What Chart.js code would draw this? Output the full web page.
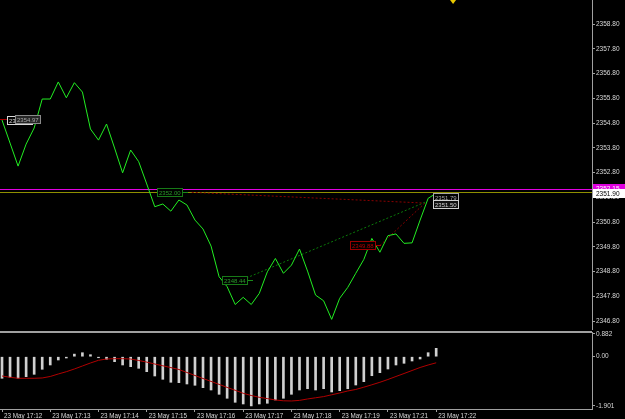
<!DOCTYPE html>
<html>
<head>
<meta charset="utf-8">
<script src="https://cdn.jsdelivr.net/npm/chart.js@4.4.1/dist/chart.umd.min.js"></script>
<style>
  html, body { margin: 0; padding: 0; background: #000; }
  #wrap { position: relative; width: 625px; height: 419px; overflow: hidden; background: #000; }
  #mainChart { position: absolute; left: 0; top: 0; }
  #oscChart { position: absolute; left: 0; top: 330px; }
</style>
</head>
<body>
<div id="wrap">
  <canvas id="mainChart" width="625" height="330"></canvas>
  <canvas id="oscChart" width="625" height="89"></canvas>
</div>
<script>
// bar times on the bottom axis (one label every 6 bars)
const timeLabels = ['23 May 17:12', '23 May 17:13', '23 May 17:14', '23 May 17:15', '23 May 17:16',
  '23 May 17:17', '23 May 17:18', '23 May 17:19', '23 May 17:21', '23 May 17:22'];
const timeTickBars = [0, 6, 12, 18, 24, 30, 36, 42, 48, 54];

// price axis
const priceTicks = [2358.8, 2357.8, 2356.8, 2355.8, 2354.8, 2353.8, 2352.8, 2351.8, 2350.8, 2349.8, 2348.8, 2347.8, 2346.8];
const priceMin = 2346.44, priceMax = 2359.77;

// close prices, one per bar
const price = [2354.92, 2353.99, 2353.06, 2353.95, 2354.60, 2355.77, 2355.77, 2356.46, 2355.82, 2356.43,
  2356.05, 2354.56, 2354.11, 2354.76, 2353.79, 2352.79, 2353.71, 2353.24, 2352.34, 2351.42,
  2351.53, 2351.24, 2351.69, 2351.49, 2350.88, 2350.52, 2349.83, 2348.59, 2348.19, 2347.47,
  2347.76, 2347.47, 2347.92, 2348.79, 2349.33, 2348.73, 2349.06, 2349.71, 2348.82, 2347.85,
  2347.62, 2346.87, 2347.72, 2348.16, 2348.73, 2349.29, 2350.14, 2349.58, 2350.25, 2350.32,
  2349.94, 2349.96, 2350.88, 2351.76, 2351.96];

// oscillator window
const oscTicks = [0.882, 0, -1.901];
const oscTickLabels = ['0.882', '0.00', '-1.901'];
const oscMin = -2.02, oscMax = 0.954;
const histogram = [-0.834, -0.795, -0.834, -0.772, -0.680, -0.486, -0.320, -0.127, -0.05, 0.10,
  0.154, 0.077, -0.04, -0.10, -0.193, -0.320, -0.386, -0.448, -0.579, -0.745,
  -0.873, -0.988, -1.004, -1.054, -1.104, -1.197, -1.286, -1.452, -1.606, -1.761,
  -1.826, -1.901, -1.826, -1.799, -1.672, -1.606, -1.452, -1.286, -1.236, -1.286,
  -1.236, -1.363, -1.313, -1.236, -1.093, -0.965, -0.734, -0.618, -0.475, -0.320,
  -0.255, -0.166, -0.089, 0.154, 0.324];
const signal = [-0.745, -0.795, -0.834, -0.834, -0.834, -0.822, -0.764, -0.668, -0.579, -0.475,
  -0.359, -0.243, -0.139, -0.089, -0.077, -0.077, -0.089, -0.147, -0.209, -0.282,
  -0.351, -0.421, -0.494, -0.610, -0.726, -0.842, -0.954, -1.069, -1.185, -1.297,
  -1.413, -1.498, -1.568, -1.618, -1.672, -1.703, -1.710, -1.687, -1.633, -1.587,
  -1.541, -1.471, -1.402, -1.324, -1.266, -1.178, -1.085, -0.988, -0.880, -0.764,
  -0.649, -0.533, -0.417, -0.320, -0.236];

// visible bar range
const barMin = -0.25, barMax = 73.38;

// chart objects: trend lines [bar, price]
const trendFromHigh = [[23.6, 2352.00], [52.4, 2351.57]];
const trendFromLow = [[30.4, 2348.54], [52.6, 2351.60]];
const trendFromMid = [[47.0, 2349.85], [52.6, 2351.57]];

// horizontal levels
const levels = [{ value: 2352.15, color: '#e000e0' }, { value: 2352.00, color: '#8f8f00' }];

// price tags on the chart
const tags = [
  { bar: 0.66, value: 2354.89, text: '2354.92', border: '#d8d8d8', fill: '#000', color: '#d8d8d8' },
  { bar: 1.62, value: 2354.95, text: '2354.97', border: '#8a8a8a', fill: '#262626', color: '#a8a8a8', stubLeft: '#a00000' },
  { bar: 19.3, value: 2352.00, text: '2352.00', border: '#177a17', fill: '#000', color: '#2a9a2a', stub: '#1a8a1a' },
  { bar: 27.3, value: 2348.44, text: '2348.44', border: '#177a17', fill: '#000', color: '#2a9a2a', stub: '#1a8a1a' },
  { bar: 43.3, value: 2349.87, text: '2349.88', border: '#9a0000', fill: '#000', color: '#b00000', stub: '#a00000' },
  { bar: 53.6, value: 2351.80, text: '2351.79', border: '#a8a8a8', fill: '#000', color: '#a8a8a8' },
  { bar: 53.6, value: 2351.50, text: '2351.50', border: '#d0d0d0', fill: '#101010', color: '#d0d0d0' }
];

// tags on the price axis
const axisTags = [
  { value: 2352.15, text: '2352.15', fill: '#e000e0', color: '#ffffff' },
  { value: 2351.95, text: '2351.90', fill: '#ffffff', color: '#000000' }
];
const shiftBar = 56.1;

Chart.defaults.font.family = 'Liberation Sans';
Chart.defaults.animation = false;

const axisColor = '#a0a0a0';
const labelColor = '#d8d8d8';

function drawTag(ctx, left, cy, t) {
  ctx.font = '6px "Liberation Sans"';
  const w = Math.ceil(ctx.measureText(t.text).width) + 4;
  const top = Math.round(cy - 4.5);
  ctx.fillStyle = t.fill;
  ctx.fillRect(left, top, w, 9);
  ctx.strokeStyle = t.border;
  ctx.lineWidth = 1;
  ctx.strokeRect(left + 0.5, top + 0.5, w - 1, 8);
  ctx.fillStyle = t.color;
  ctx.textBaseline = 'middle';
  ctx.textAlign = 'left';
  ctx.fillText(t.text, left + 2, top + 5);
  return w;
}

const mainOverlay = {
  id: 'mainOverlay',
  beforeDatasetsDraw(chart) {
    const { ctx, chartArea: a, scales: { y } } = chart;
    ctx.save();
    ctx.lineWidth = 1;
    levels.forEach(l => {
      const py = Math.round(y.getPixelForValue(l.value)) + 0.5;
      ctx.strokeStyle = l.color;
      ctx.beginPath();
      ctx.moveTo(a.left, py);
      ctx.lineTo(a.right, py);
      ctx.stroke();
    });
    ctx.restore();
  },
  afterDatasetsDraw(chart) {
    const { ctx, chartArea: a, scales: { x, y } } = chart;
    ctx.save();
    tags.forEach(t => {
      const left = Math.round(x.getPixelForValue(t.bar));
      const cy = y.getPixelForValue(t.value);
      const w = drawTag(ctx, left, cy, t);
      const sy = Math.round(cy) + 0.5;
      if (t.stub) {
        ctx.strokeStyle = t.stub;
        ctx.beginPath(); ctx.moveTo(left + w, sy); ctx.lineTo(left + w + 5, sy); ctx.stroke();
      }
      if (t.stubLeft) {
        ctx.strokeStyle = t.stubLeft;
        ctx.beginPath(); ctx.moveTo(a.left, sy); ctx.lineTo(left - 8, sy); ctx.stroke();
      }
    });
    ctx.restore();
  },
  afterDraw(chart) {
    const { ctx, chartArea: a, scales: { x, y } } = chart;
    ctx.save();
    ctx.font = '6.5px "Liberation Sans"';
    axisTags.forEach(t => {
      const top = Math.round(y.getPixelForValue(t.value) - 4.5);
      ctx.fillStyle = t.fill;
      ctx.fillRect(a.right + 1, top, chart.width - a.right - 1, 9);
      ctx.fillStyle = t.color;
      ctx.textBaseline = 'middle';
      ctx.fillText(t.text, a.right + 4, top + 5);
    });
    const px = x.getPixelForValue(shiftBar);
    ctx.fillStyle = '#e8c800';
    ctx.beginPath();
    ctx.moveTo(px - 3, 0); ctx.lineTo(px + 3, 0); ctx.lineTo(px, 4);
    ctx.closePath();
    ctx.fill();
    ctx.restore();
  }
};

const toPoints = (arr) => arr.map((v, i) => ({ x: i, y: v }));
const trendSet = (pts, color) => ({
  data: pts.map(p => ({ x: p[0], y: p[1] })),
  borderColor: color,
  borderWidth: 1,
  borderDash: [2, 2],
  pointRadius: 0
});

const mainChart = new Chart(document.getElementById('mainChart'), {
  type: 'line',
  data: {
    datasets: [
      { data: toPoints(price), borderColor: '#22ee22', borderWidth: 1, pointRadius: 0, tension: 0 },
      trendSet(trendFromHigh, '#8a0000'),
      trendSet(trendFromLow, '#0a7a0a'),
      trendSet(trendFromMid, '#8a0000')
    ]
  },
  options: {
    responsive: false,
    layout: { padding: 0 },
    plugins: { legend: { display: false }, tooltip: { enabled: false } },
    scales: {
      x: { type: 'linear', min: barMin, max: barMax, display: false },
      y: {
        position: 'right',
        min: priceMin,
        max: priceMax,
        afterBuildTicks: s => { s.ticks = priceTicks.map(v => ({ value: v })); },
        afterFit: s => { s.width = 33; s.paddingTop = 0; s.paddingBottom = 0; },
        grid: { drawOnChartArea: false, drawTicks: true, tickLength: 3, color: axisColor },
        border: { display: true, color: axisColor },
        ticks: {
          autoSkip: false,
          color: labelColor,
          padding: 1,
          font: { size: 6.5 },
          callback: v => v.toFixed(2)
        }
      }
    }
  },
  plugins: [mainOverlay]
});

const oscFrame = {
  id: 'oscFrame',
  beforeDatasetsDraw(chart) {
    const { ctx, chartArea: a } = chart;
    ctx.save();
    ctx.strokeStyle = axisColor;
    ctx.lineWidth = 2;
    ctx.beginPath();
    ctx.moveTo(0, a.top);
    ctx.lineTo(a.right, a.top);
    ctx.stroke();
    ctx.restore();
  }
};

const oscChart = new Chart(document.getElementById('oscChart'), {
  type: 'bar',
  data: {
    datasets: [
      { type: 'line', data: toPoints(signal), borderColor: '#b00000', borderWidth: 1, pointRadius: 0, tension: 0 },
      { type: 'bar', data: toPoints(histogram), backgroundColor: '#d0d0d0', barThickness: 2 }
    ]
  },
  options: {
    responsive: false,
    layout: { padding: { top: 2 } },
    plugins: { legend: { display: false }, tooltip: { enabled: false } },
    scales: {
      x: {
        type: 'linear',
        offset: false,
        min: barMin,
        max: barMax,
        afterBuildTicks: s => { s.ticks = timeTickBars.map(v => ({ value: v })); },
        afterFit: s => { s.height = 10; s.paddingLeft = 0; s.paddingRight = 0; },
        grid: { offset: false, drawOnChartArea: false, drawTicks: true, tickLength: 3, color: axisColor },
        border: { display: true, color: axisColor },
        ticks: {
          autoSkip: false,
          maxRotation: 0,
          align: 'start',
          labelOffset: 2,
          padding: 0,
          color: labelColor,
          font: { size: 6.3 },
          callback: (v, i) => timeLabels[i]
        }
      },
      y: {
        position: 'right',
        min: oscMin,
        max: oscMax,
        afterBuildTicks: s => { s.ticks = oscTicks.map(v => ({ value: v })); },
        afterFit: s => { s.width = 33; s.paddingTop = 0; s.paddingBottom = 0; },
        grid: { drawOnChartArea: false, drawTicks: true, tickLength: 3, color: axisColor },
        border: { display: true, color: axisColor },
        ticks: {
          autoSkip: false,
          color: labelColor,
          padding: 1,
          font: { size: 6.5 },
          callback: (v, i) => oscTickLabels[i]
        }
      }
    }
  },
  plugins: [oscFrame]
});
</script>
</body>
</html>
